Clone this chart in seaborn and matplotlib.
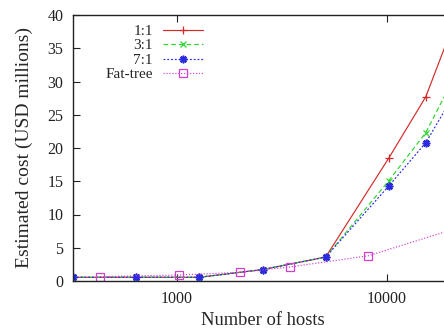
import matplotlib
matplotlib.use("Agg")
import matplotlib.pyplot as plt
import seaborn as sns
import pandas as pd
from matplotlib.ticker import FixedLocator, FixedFormatter, NullLocator

sns.set_style("ticks")
plt.rcParams["font.family"] = ["Liberation Serif", "DejaVu Serif"]

# Host counts for the oversubscribed designs and the fat-tree
hosts_ratio = [320, 640, 1280, 2560, 5120, 10240, 15360, 20480]
hosts_fattree = [432, 1024, 2000, 3456, 8192, 27648]

# Estimated cost in USD millions
cost_1to1 = [0.56, 0.56, 0.56, 1.72, 3.6, 18.5, 27.7, 38.0]
cost_3to1 = [0.56, 0.56, 0.56, 1.72, 3.6, 15.1, 22.3, 30.0]
cost_7to1 = [0.56, 0.56, 0.56, 1.72, 3.6, 14.3, 20.8, 27.5]
cost_fattree = [0.65, 0.9, 1.3, 2.1, 3.8, 9.0]

series = [
    ("1:1", hosts_ratio, cost_1to1, dict(color="#d42a2a", marker="+", ms=5.5, mew=0.9, ls="-")),
    ("3:1", hosts_ratio, cost_3to1, dict(color="#2fd22f", marker="x", ms=4.5, mew=0.9, ls=(0, (4, 2.5)))),
    ("7:1", hosts_ratio, cost_7to1, dict(color="#2a2ae0", marker=(8, 2, 0), ms=5.5, mew=1.2, ls=(0, (1.6, 1.6)))),
    ("Fat-tree", hosts_fattree, cost_fattree, dict(color="#d040d0", marker="s", ms=5.5, mew=0.9,
                                                    ls=(0, (1, 1.5)), mfc="none")),
]

fig = plt.figure(figsize=(4.44, 3.28), dpi=100)
ax = fig.add_axes([73 / 444, 47 / 328, 379 / 444, 266 / 328])

for name, xs, ys, style in series:
    df = pd.DataFrame({"hosts": xs, "cost": ys})
    sns.lineplot(data=df, x="hosts", y="cost", ax=ax, label=name,
                 color=style["color"], marker=style["marker"], markersize=style["ms"],
                 markeredgewidth=style["mew"], markeredgecolor=style["color"],
                 markerfacecolor=style.get("mfc", style["color"]),
                 linestyle=style["ls"], linewidth=0.85)

ax.set_xscale("log")
ax.set_xlim(320, 20480)
ax.set_ylim(0, 40)
ax.xaxis.set_major_locator(FixedLocator([1000, 10000]))
ax.xaxis.set_major_formatter(FixedFormatter(["1000", "10000"]))
ax.xaxis.set_minor_locator(NullLocator())
ax.set_yticks(range(0, 41, 5))

ax.tick_params(axis="both", direction="in", length=5, width=0.8, labelsize=11.5,
               colors="#222222")
ax.tick_params(axis="x", top=True, pad=7)
ax.tick_params(axis="y", pad=7)
for sp in ax.spines.values():
    sp.set_visible(True)
    sp.set_linewidth(1.0)
    sp.set_color("#222222")

ax.set_xlabel("Number of hosts", fontsize=13.3, labelpad=3.5)
ax.set_ylabel("Estimated cost (USD millions)", fontsize=14, labelpad=10)

leg = ax.legend(loc="upper left", frameon=False, markerfirst=False,
                fontsize=11, handlelength=2.6, labelspacing=0.05, handletextpad=0.7,
                borderaxespad=0.0, borderpad=0.0)
leg.set_bbox_to_anchor((0.085, 0.965), transform=ax.transAxes)

fig.savefig("out.png", dpi=100)
